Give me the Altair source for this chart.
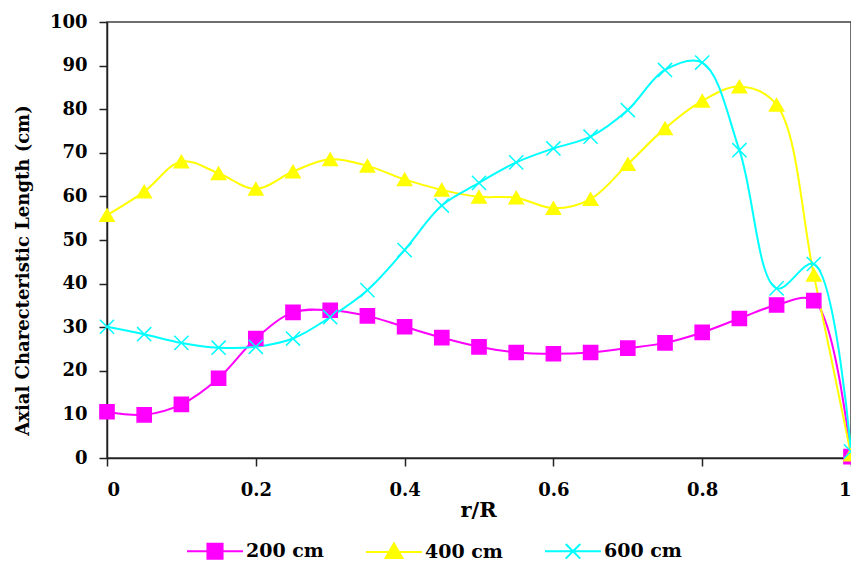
import altair as alt
import pandas as pd

r_vals = [0, 0.05, 0.1, 0.15, 0.2, 0.25, 0.3, 0.35, 0.4, 0.45, 0.5,
          0.55, 0.6, 0.65, 0.7, 0.75, 0.8, 0.85, 0.9, 0.95, 1.0]
s200 = [10.6, 9.9, 12.3, 18.3, 27.4, 33.4, 33.9, 32.6, 30.1, 27.6, 25.5,
        24.2, 23.9, 24.2, 25.2, 26.4, 28.8, 32.0, 35.1, 36.1, 0.3]
s400 = [55.7, 61.1, 68.0, 65.3, 61.7, 65.7, 68.5, 67.0, 63.9, 61.5, 59.9,
        59.7, 57.3, 59.4, 67.4, 75.6, 81.9, 85.2, 81.0, 42.0, 0.8]
s600 = [30.1, 28.4, 26.4, 25.3, 25.5, 27.4, 32.3, 38.5, 47.7, 57.9, 63.1,
        67.8, 71.0, 73.7, 79.8, 89.0, 90.7, 70.6, 38.9, 44.5, 1.5]

series_names = ["200 cm", "400 cm", "600 cm"]
series_colors = ["#FF00FF", "#FFFF00", "#00FFFF"]
x_ticks = [0, 0.2, 0.4, 0.6, 0.8, 1.0]
y_ticks = [0, 10, 20, 30, 40, 50, 60, 70, 80, 90, 100]

rows = []
for name, vals in zip(series_names, [s200, s400, s600]):
    for rr, v in zip(r_vals, vals):
        rows.append({"r": rr, "value": v, "series": name})
df = pd.DataFrame(rows)

X_PATH = "M-1,-1L1,1M-1,1L1,-1"
marker_shapes = ["square", "triangle-up", X_PATH]
legend_shapes = [
    "M-1,0L1,0M-0.27,-0.27L0.27,-0.27L0.27,0.27L-0.27,0.27Z",
    "M-1,0L1,0M0,-0.3L0.3,0.22L-0.3,0.22Z",
    "M-1,0L1,0M-0.26,-0.26L0.26,0.26M-0.26,0.26L0.26,-0.26",
]

FONT = "DejaVu Serif"

x_enc = alt.X("r:Q", scale=alt.Scale(domain=[0, 1], nice=False),
              axis=alt.Axis(values=x_ticks, format="~g", title="r/R",
                            labelFontSize=18, titleFontSize=21,
                            labelPadding=15, titleX=371, titleY=52,
                            titleBaseline="middle", titleAlign="center"))
y_enc = alt.Y("value:Q", scale=alt.Scale(domain=[0, 100], nice=False),
              axis=alt.Axis(values=y_ticks, title="Axial Charecteristic Length (cm)",
                            labelFontSize=18, titleFontSize=18,
                            labelPadding=12, titleX=-84, titleY=248,
                            titleBaseline="middle", titleAlign="center"))

lines = alt.Chart(df).mark_line(interpolate="catmull-rom", strokeWidth=2).encode(
    x=x_enc, y=y_enc,
    color=alt.Color("series:N", scale=alt.Scale(domain=series_names, range=series_colors), legend=None),
    detail="series:N",
)

points = alt.Chart(df).mark_point(filled=True, size=200, strokeWidth=1.5, opacity=1).encode(
    x=x_enc, y=y_enc,
    fill=alt.Fill("series:N", scale=alt.Scale(domain=series_names, range=series_colors), legend=None),
    stroke=alt.Stroke("series:N", scale=alt.Scale(domain=series_names, range=series_colors), legend=None),
    shape=alt.Shape("series:N", scale=alt.Scale(domain=series_names, range=marker_shapes), legend=None),
)

leg = alt.Legend(title=None, orient="none", direction="horizontal",
                 legendX=79, legendY=500, symbolSize=3136, symbolStrokeWidth=2,
                 labelFont=FONT, labelFontWeight="bold", labelFontSize=19,
                 labelColor="black", labelOffset=2, columnPadding=38, padding=0)

legend_layer = alt.Chart(df).transform_filter("false").mark_point(filled=True, opacity=1).encode(
    fill=alt.Fill("series:N", scale=alt.Scale(domain=series_names, range=series_colors), legend=leg),
    stroke=alt.Stroke("series:N", scale=alt.Scale(domain=series_names, range=series_colors), legend=leg),
    shape=alt.Shape("series:N", scale=alt.Scale(domain=series_names, range=legend_shapes), legend=leg),
)

chart = alt.layer(lines, points, legend_layer).resolve_scale(
    color="independent", fill="independent", stroke="independent", shape="independent"
).properties(
    width=744, height=436,
    autosize=alt.AutoSizeParams(type="none"),
    padding={"left": 99, "top": 14, "right": 0, "bottom": 106},
    background="white",
).configure_view(
    stroke="#404040", strokeWidth=1.5
).configure_axis(
    labelFont=FONT, titleFont=FONT, labelFontWeight="bold", titleFontWeight="bold",
    labelColor="black", titleColor="black", domainColor="#222", domainWidth=1.5,
    tickColor="#222", tickWidth=1.5, tickSize=8, grid=False,
)

chart.save("out.html", embed_options={"renderer": "svg", "actions": False})
